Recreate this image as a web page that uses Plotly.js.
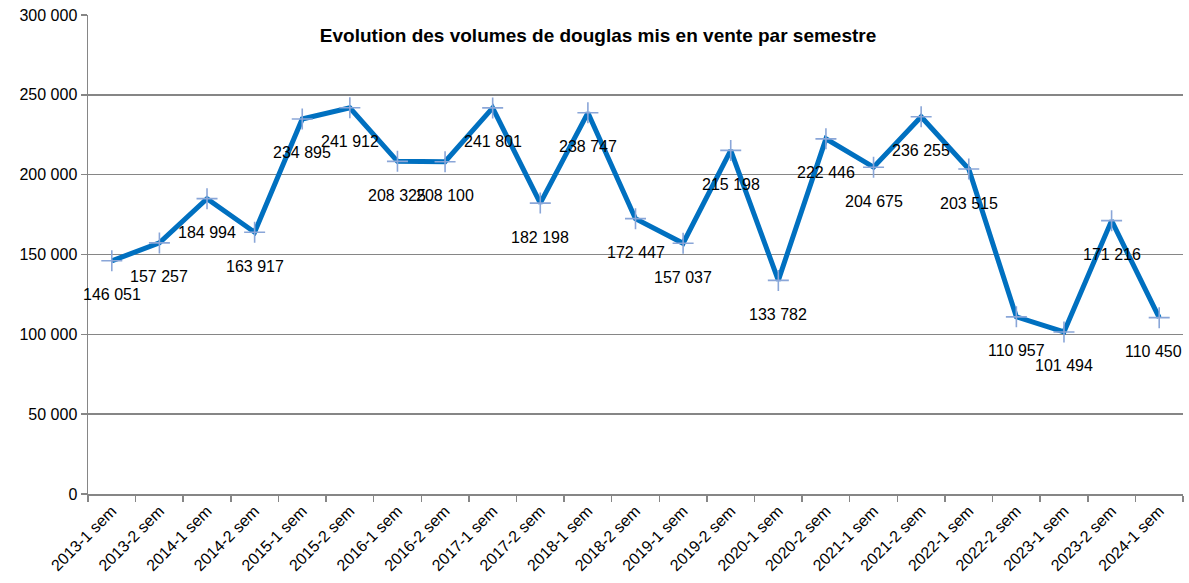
<!DOCTYPE html>
<html>
<head>
<meta charset="utf-8">
<script src="https://cdn.plot.ly/plotly-3.0.1.min.js"></script>
<style>html,body{margin:0;padding:0;background:#fff;}#chart{width:1189px;height:583px;}</style>
</head>
<body>
<div id="chart"></div>
<script>
const categories = ["2013-1 sem","2013-2 sem","2014-1 sem","2014-2 sem","2015-1 sem","2015-2 sem","2016-1 sem","2016-2 sem","2017-1 sem","2017-2 sem","2018-1 sem","2018-2 sem","2019-1 sem","2019-2 sem","2020-1 sem","2020-2 sem","2021-1 sem","2021-2 sem","2022-1 sem","2022-2 sem","2023-1 sem","2023-2 sem","2024-1 sem"];
const volumes = [146051,157257,184994,163917,234895,241912,208325,208100,241801,182198,238747,172447,157037,215198,133782,222446,204675,236255,203515,110957,101494,171216,110450];
const yTickValues = [0,50000,100000,150000,200000,250000,300000];
const chartTitle = "Evolution des volumes de douglas mis en vente par semestre";

function fmt(v){ return String(v).replace(/\B(?=(\d{3})+(?!\d))/g, " "); }

const font = "Liberation Sans, Arial, sans-serif";

const annotations = categories.map((c,i)=>({
  x: c, y: volumes[i], xref:'x', yref:'y',
  text: fmt(volumes[i]), showarrow:false,
  yshift: -34, xshift: (i === categories.length-1 ? -6 : 0),
  font:{family:font, size:16, color:'#000'}
}));

const trace = {
  x: categories, y: volumes, type:'scatter', mode:'lines+markers',
  line:{color:'#0070C0', width:5},
  marker:{symbol:'cross-thin', size:15, line:{color:'#8AA6D8', width:1.6}, color:'#8AA6D8'},
  hoverinfo:'skip', cliponaxis:false
};

const layout = {
  width:1189, height:583,
  margin:{l:88, r:6, t:15, b:89},
  paper_bgcolor:'#fff', plot_bgcolor:'#fff',
  separators:', ',
  showlegend:false,
  title:{text:'<b>'+chartTitle+'</b>', x:0.503, xanchor:'center', y:1-35/583, yanchor:'middle', yref:'container',
         font:{family:font, size:19, color:'#000'}},
  xaxis:{type:'category', range:[-0.5, categories.length-0.5], tickson:'boundaries',
         ticks:'outside', ticklen:6, tickcolor:'#868686', tickwidth:1.5,
         showline:true, linecolor:'#868686', linewidth:1.5, showgrid:false,
         tickangle:-45, tickfont:{family:font, size:16, color:'#000'}, fixedrange:true},
  yaxis:{range:[0,300000], tickvals:yTickValues, ticktext:yTickValues.map(fmt),
         ticks:'outside', ticklen:6, tickcolor:'#868686', tickwidth:1.5,
         showline:true, linecolor:'#868686', linewidth:1.5,
         showgrid:true, gridcolor:'#868686', gridwidth:1.5, zeroline:false,
         tickfont:{family:font, size:16, color:'#000'}, fixedrange:true},
  annotations: annotations
};

Plotly.newPlot('chart', [trace], layout, {displayModeBar:false, staticPlot:true});
</script>
</body>
</html>
